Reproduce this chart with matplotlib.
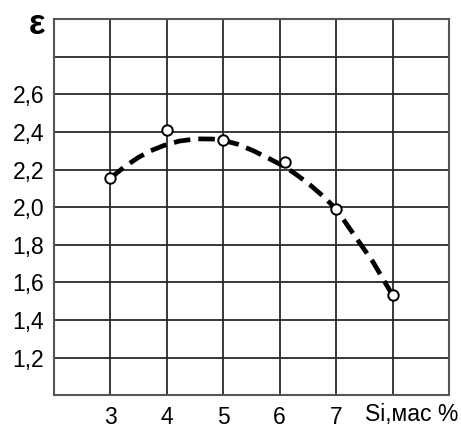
import numpy as np
import matplotlib
matplotlib.use("Agg")
import matplotlib.pyplot as plt

# measured points (Si, wt % -> epsilon)
si = [3.0, 4.0, 5.0, 6.09, 7.0, 8.0]
eps = [2.154, 2.408, 2.357, 2.239, 1.99, 1.532]

# trend curve
curve_x = [3.0, 3.25, 3.5, 3.7, 3.95, 4.22, 4.52, 4.81, 5.0, 5.25, 5.53,
           5.8, 6.09, 6.3, 6.53, 6.77, 7.0, 7.3, 7.65, 8.0]
curve_y = [2.154, 2.215, 2.265, 2.298, 2.328, 2.351, 2.363, 2.362, 2.355,
           2.335, 2.30, 2.26, 2.215, 2.172, 2.12, 2.058, 1.99, 1.86, 1.71, 1.532]

x_ticks = [2, 3, 4, 5, 6, 7, 8, 9]
x_labels = ["", "3", "4", "5", "6", "7", "", ""]
y_ticks = [1.0, 1.2, 1.4, 1.6, 1.8, 2.0, 2.2, 2.4, 2.6, 2.8, 3.0]
y_labels = ["", "1,2", "1,4", "1,6", "1,8", "2,0", "2,2", "2,4", "2,6", "", ""]

plt.rcParams["font.family"] = ["Liberation Sans", "DejaVu Sans"]

fig = plt.figure(figsize=(4.61, 4.28), dpi=100)
ax = fig.add_axes([0.1171, 0.0764, 0.8569, 0.8792])

ax.set_xlim(2, 9)
ax.set_ylim(1.0, 3.0)
ax.set_xticks(x_ticks)
ax.set_xticklabels(x_labels)
ax.set_yticks(y_ticks)
ax.set_yticklabels(y_labels)
ax.tick_params(length=0, labelsize=16.5)
ax.tick_params(axis="y", pad=7)
ax.tick_params(axis="x", pad=8)
ax.grid(True, color="#2a2a2a", linewidth=1.3)
for s in ax.spines.values():
    s.set_color("#555555")
    s.set_linewidth(1.5)

ax.plot(curve_x, curve_y, color="black", linewidth=3.4,
        dashes=(3.5, 1.7), solid_capstyle="butt", zorder=3)
ax.plot(si, eps, linestyle="none", marker="o", markersize=7.5,
        markerfacecolor="white", markeredgecolor="black",
        markeredgewidth=1.4, zorder=4)

fig.text(365 / 461, 1 - 414 / 428, "Si,мас %", fontsize=16.5,
         ha="left", va="center")
fig.text(37 / 461, 1 - 25 / 428, "ε", fontsize=25, fontweight="bold",
         ha="center", va="center")

fig.savefig("out.png", dpi=100)
